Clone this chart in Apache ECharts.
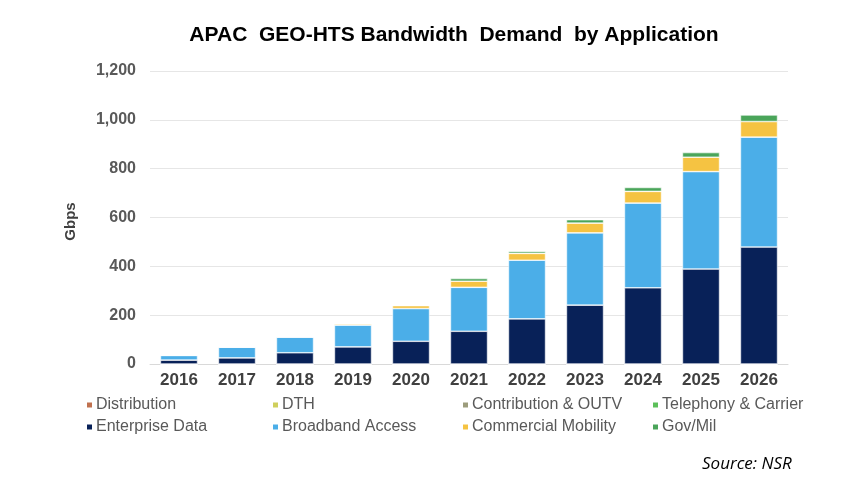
<!DOCTYPE html>
<html>
<head>
<meta charset="utf-8">
<script src="https://cdn.jsdelivr.net/npm/echarts@6/dist/echarts.min.js"></script>
<style>
  html, body { margin: 0; padding: 0; background: #fff; }
  #chart { width: 846px; height: 478px; }
</style>
</head>
<body>
<div id="chart"></div>
<script>
'use strict';

var years = ['2016', '2017', '2018', '2019', '2020', '2021', '2022', '2023', '2024', '2025', '2026'];
var yTicks = [0, 200, 400, 600, 800, 1000, 1200];

// Gbps per application
var distribution = [0, 0, 0, 0, 0, 0, 0, 0, 0, 0, 0];
var dth = [0, 0, 0, 0, 0, 0, 0, 0, 0, 0, 0];
var contribution = [0, 0, 0, 0, 0, 0, 0, 0, 0, 0, 0];
var telephony = [0, 0, 0, 0, 0, 0, 0, 0, 0, 0, 0];
var enterprise = [16, 25, 46, 70, 93, 134, 185, 241, 312, 389, 479];
var broadband = [19, 44, 64, 89, 134, 180, 240, 296, 347, 399, 450];
var mobility = [0, 0, 1, 5, 12, 25, 28, 40, 48, 59, 64];
var govmil = [0, 0, 0, 2, 3, 11, 8, 14, 16, 19, 27];

var names = ['Distribution', 'DTH', 'Contribution & OUTV', 'Telephony & Carrier',
  'Enterprise Data', 'Broadband Access', 'Commercial Mobility', 'Gov/Mil'];
var colors = ['#c0714f', '#cfcf5c', '#9c9c7c', '#5cc05a',
  '#082158', '#4baee8', '#f5c342', '#4aa55a'];
var values = [distribution, dth, contribution, telephony, enterprise, broadband, mobility, govmil];

var series = names.map(function (n, i) {
  return {
    name: n,
    type: 'bar',
    stack: 'total',
    barCategoryGap: '36%',
    itemStyle: { color: colors[i], borderColor: '#fff', borderWidth: 0.6 },
    data: values[i]
  };
});

// four legend columns, two rows each
var colX = [80, 266, 456, 646];
var legends = colX.map(function (x, c) {
  return {
    orient: 'vertical',
    left: x,
    top: 392,
    itemWidth: 7,
    itemHeight: 7,
    itemGap: 6,
    icon: 'rect',
    textStyle: { color: '#595959', fontSize: 16, fontFamily: 'Liberation Sans', padding: [0, 0, 0, -2] },
    data: [names[c], names[c + 4]]
  };
});

var chart = echarts.init(document.getElementById('chart'));
chart.setOption({
  animation: false,
  title: [{
    text: 'APAC  GEO-HTS Bandwidth  Demand  by Application',
    left: 449,
    textAlign: 'center',
    top: 20,
    textStyle: { fontSize: 21, fontWeight: 'bold', color: '#000', fontFamily: 'Liberation Sans' }
  }, {
    text: 'Source: NSR',
    left: 697,
    top: 451,
    textStyle: { fontSize: 17, fontStyle: 'italic', fontWeight: 'normal', color: '#000', fontFamily: 'Open Sans' }
  }],
  legend: legends,
  grid: { left: 150, right: 58, top: 71, bottom: 114 },
  xAxis: {
    type: 'category',
    data: years,
    axisTick: { show: false },
    axisLine: { lineStyle: { color: '#d9d9d9' } },
    axisLabel: { color: '#404040', fontSize: 17, fontWeight: 'bold', fontFamily: 'Liberation Sans', margin: 8 }
  },
  yAxis: {
    type: 'value',
    min: yTicks[0],
    max: yTicks[yTicks.length - 1],
    interval: 200,
    name: 'Gbps',
    nameLocation: 'middle',
    nameGap: 72,
    nameTextStyle: { color: '#404040', fontSize: 15, fontWeight: 'bold', fontFamily: 'Liberation Sans', padding: [0, 0, 0, -8] },
    axisLabel: {
      color: '#595959', fontSize: 16, fontWeight: 'bold', fontFamily: 'Liberation Sans', margin: 14,
      formatter: function (v) { return v.toLocaleString('en-US'); }
    },
    splitLine: { lineStyle: { color: '#e6e6e6' } }
  },
  series: series
});
</script>
</body>
</html>
